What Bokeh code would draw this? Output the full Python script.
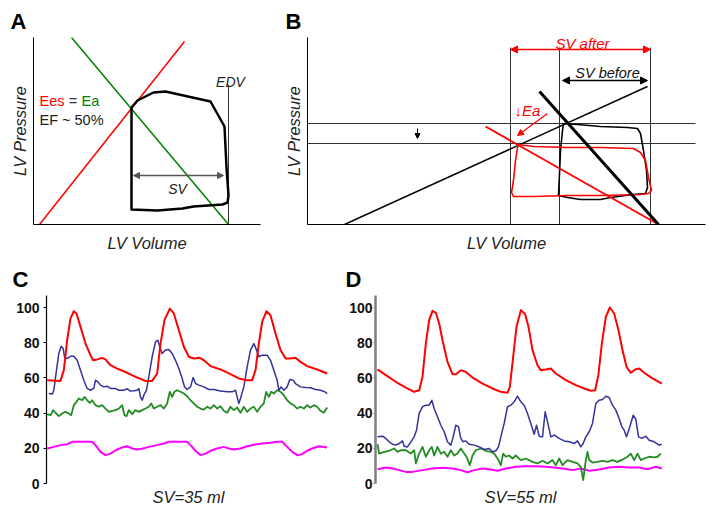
import math
from bokeh.plotting import figure
from bokeh.layouts import row, column
from bokeh.models import Label, Arrow, NormalHead, FixedTicker
from bokeh.embed import file_html
from bokeh.resources import INLINE

FONT = "Liberation Sans"

# ---------------- Panel A (schematic PV loop, arbitrary units) ----------------
a_espvr_v = [6, 151]
a_espvr_p = [0, 183]
a_ea_v = [38, 195]
a_ea_p = [187, 0]
a_edv_v = [195, 195]
a_edv_p = [0, 140]
a_loop_v = [98, 104, 120, 132, 177, 191, 193, 195, 194, 189, 160, 149, 124, 98, 98]
a_loop_p = [117, 124, 132, 133, 123, 98, 57, 29, 22, 20, 18, 16, 14, 15, 117]
a_sv_arrow = [100, 190, 49]  # v_start, v_end, p

# ---------------- Panel B (schematic, arbitrary units) ----------------
b_espvr_v = [37, 340]
b_espvr_p = [0, 138]
b_ea_before_v = [232, 351]
b_ea_before_p = [133, 0]
b_ea_after_v = [178, 351]
b_ea_after_p = [98, 0]
b_vlines_v = [203, 252, 343]
b_vline_top = 177
b_hlines_p = [101, 81]
b_hline_v = [-5, 388]
b_loop_before_v = [256, 270, 293, 320, 330, 333, 336, 339, 340, 338, 326, 303, 293, 273, 260, 251, 252, 253, 255, 256]
b_loop_before_p = [101, 100, 98, 97, 96, 91, 74, 54, 37, 31, 30, 27, 25, 25, 27, 29, 51, 74, 94, 101]
b_loop_after_v = [211, 226, 260, 293, 326, 333, 338, 341, 344, 341, 333, 293, 260, 226, 206, 204, 206, 208, 210, 211]
b_loop_after_p = [80, 78, 77, 77, 76, 72, 64, 47, 34, 31, 30, 29, 29, 28, 28, 32, 44, 64, 77, 80]
b_sv_after = [203, 343, 175]
b_sv_before = [255, 340, 144]
b_down_arrow = [110, 96, 86]
b_ea_arrow = [240, 111, 210, 89]

# ---------------- Panel C (pressure traces, mmHg; time in samples @300 Hz) ----------------
c_red = [(20,58.7),(60,58.3),(70,64.4),(80,81.4),(90,93.8),(100,97.9),(108,96.6),(120,89.0),(135,79.5),(150,72.9),(158,70.0),(170,70.5),(185,71.4),(195,70.5),(210,67.2),(230,65.3),(260,62.9),(290,60.2),(315,58.3),(335,58.3),(350,62.5),(360,79.5),(372,92.8),(388,99.4),(400,96.6),(415,87.1),(430,77.7),(445,72.0),(460,71.0),(478,71.4),(490,70.0),(510,66.7),(540,64.8),(570,62.1),(595,59.7),(618,58.7),(635,58.7),(645,64.4),(655,79.5),(665,91.9),(678,97.9),(690,95.6),(705,85.2),(720,75.8),(735,71.0),(750,71.0),(765,71.4),(780,69.1),(800,66.7),(830,64.8),(860,62.5)]
c_blue = [(25,51.1),(35,50.8),(40,53.0),(48,64.4),(55,73.9),(62,78.0),(68,76.7),(72,72.0),(80,71.0),(90,72.3),(100,72.3),(110,70.0),(120,64.4),(130,58.7),(140,54.0),(150,53.0),(160,54.0),(165,58.7),(172,57.8),(180,55.9),(190,54.9),(200,55.3),(210,54.0),(225,54.0),(235,53.0),(250,53.0),(260,53.8),(270,52.5),(280,52.7),(290,53.0),(295,54.0),(300,49.2),(305,47.3),(310,50.2),(318,53.0),(325,60.6),(335,72.0),(345,80.5),(352,81.4),(358,77.7),(365,73.9),(375,75.8),(385,76.1),(395,73.9),(405,70.0),(415,65.3),(425,59.7),(432,55.0),(440,53.4),(450,54.9),(458,60.2),(465,56.8),(475,55.9),(490,54.9),(505,53.4),(520,53.4),(540,52.5),(560,52.1),(575,52.1),(585,53.0),(590,49.2),(595,45.5),(600,48.3),(610,54.9),(620,66.3),(630,75.8),(640,79.5),(648,75.8),(655,72.0),(665,72.9),(680,72.9),(690,70.0),(700,64.4),(710,58.7),(715,53.0),(722,54.9),(730,53.0),(740,54.9),(748,59.1),(758,58.7),(765,56.8),(780,54.9),(795,54.5),(810,54.4),(825,53.4),(840,53.0),(855,51.9),(860,51.1)]
c_green = [(20,39.4),(30,38.8),(38,41.7),(45,40.2),(55,38.3),(65,39.8),(75,40.7),(85,39.8),(92,38.8),(100,44.5),(108,46.4),(115,48.3),(125,47.3),(132,49.2),(140,47.3),(148,45.8),(155,47.3),(165,44.5),(175,43.6),(185,44.5),(195,42.6),(205,40.7),(215,41.3),(225,41.7),(235,42.6),(245,44.5),(252,38.8),(258,38.3),(265,41.7),(275,39.4),(285,41.7),(295,40.7),(305,41.7),(315,42.6),(325,43.6),(332,45.5),(340,42.6),(350,43.6),(360,44.5),(370,42.6),(380,45.5),(388,52.1),(395,49.2),(402,52.1),(410,53.0),(420,52.1),(430,51.1),(440,49.6),(450,47.3),(460,45.5),(470,43.6),(480,42.6),(490,42.0),(500,43.6),(510,42.6),(520,44.5),(530,42.6),(540,43.9),(550,41.3),(560,40.2),(570,43.6),(580,41.7),(590,43.2),(600,40.2),(610,43.6),(620,40.7),(630,42.6),(640,43.6),(650,40.7),(660,43.6),(670,45.5),(677,52.1),(685,49.2),(692,52.1),(700,51.1),(710,53.0),(720,52.1),(730,50.2),(740,47.3),(750,45.5),(760,44.5),(770,42.6),(780,43.6),(790,42.6),(800,44.5),(810,43.2),(820,44.5),(830,43.6),(840,41.3),(850,40.2),(860,43.2)]
c_magenta = [(20,19.9),(40,20.8),(60,21.8),(80,22.3),(95,23.7),(110,23.7),(130,23.7),(155,23.7),(165,21.8),(180,18.0),(195,16.1),(210,17.0),(225,18.9),(245,20.5),(260,21.2),(275,19.9),(290,19.3),(305,19.7),(325,20.8),(350,21.8),(370,22.7),(385,23.7),(400,23.7),(420,23.7),(440,23.7),(450,21.8),(465,18.6),(480,16.1),(495,17.0),(510,18.6),(530,19.9),(550,20.8),(565,19.9),(580,19.3),(600,19.9),(620,21.2),(645,22.2),(665,22.7),(690,23.1),(710,23.7),(725,23.7),(740,20.8),(755,18.0),(770,16.1),(785,16.7),(800,18.6),(815,19.9),(835,21.2),(850,20.8),(860,20.5)]

# ---------------- Panel D ----------------
d_red = [(15,64.8),(40,61.6),(70,57.8),(100,54.5),(125,52.1),(140,53.0),(150,60.6),(160,79.5),(170,92.8),(180,98.1),(190,97.0),(200,90.9),(210,81.4),(225,69.1),(240,62.1),(250,62.1),(265,64.4),(280,63.4),(300,60.2),(330,56.8),(360,54.0),(385,52.1),(405,51.5),(412,54.9),(422,72.0),(432,89.0),(445,98.5),(458,96.2),(468,89.0),(480,75.8),(495,67.2),(505,64.4),(520,64.8),(535,65.3),(550,62.5),(580,58.7),(610,55.9),(635,54.0),(655,52.7),(668,53.0),(678,62.1),(688,79.5),(700,94.7),(712,100.0),(725,96.6),(738,87.1),(750,75.8),(762,66.3),(775,62.9),(788,64.8),(800,65.3),(815,62.9),(840,59.7),(868,56.8)]
d_blue = [(15,26.5),(30,26.9),(40,25.6),(50,23.7),(60,22.3),(70,21.8),(80,22.7),(90,24.2),(95,21.2),(105,20.8),(115,23.7),(125,26.5),(132,30.3),(140,39.8),(150,43.6),(160,44.5),(170,44.5),(178,47.3),(185,42.6),(195,37.9),(205,33.1),(215,29.4),(225,23.7),(235,21.8),(242,26.5),(250,33.1),(258,32.2),(265,25.6),(272,23.7),(280,24.2),(290,22.3),(305,21.8),(320,20.8),(335,19.3),(350,19.9),(360,18.0),(370,18.6),(378,20.8),(385,26.5),(395,34.1),(405,43.6),(415,44.5),(425,46.4),(435,49.6),(445,46.4),(455,44.5),(465,39.8),(475,34.1),(485,28.0),(492,33.1),(500,26.9),(510,26.5),(518,40.7),(525,35.2),(535,26.5),(545,27.5),(560,25.6),(575,24.2),(590,23.7),(605,22.7),(615,24.2),(625,20.8),(632,22.7),(640,26.5),(650,29.4),(660,34.1),(670,45.5),(680,47.3),(690,47.7),(700,49.6),(710,48.9),(720,44.5),(730,41.7),(740,36.9),(748,32.2),(755,30.3),(762,26.5),(772,32.2),(782,38.8),(790,36.6),(798,26.5),(808,25.6),(820,26.9),(830,24.6),(845,23.7),(860,21.8),(868,22.3)]
d_green = [(15,22.3),(20,17.0),(35,18.0),(50,18.6),(65,19.9),(75,18.0),(85,18.9),(100,18.9),(115,17.0),(125,18.9),(130,11.4),(140,17.0),(150,20.8),(160,15.2),(170,18.9),(178,20.8),(185,15.9),(195,20.8),(205,17.0),(215,18.0),(225,15.2),(235,18.9),(245,15.9),(255,17.0),(265,19.9),(275,17.0),(282,15.2),(292,10.4),(300,15.9),(310,18.9),(325,19.9),(340,18.6),(355,18.0),(365,17.0),(378,13.3),(385,10.4),(392,17.0),(400,15.2),(410,15.9),(420,14.2),(430,15.9),(445,13.3),(460,14.2),(480,12.3),(495,11.4),(510,12.9),(525,11.4),(540,13.3),(550,10.4),(560,14.2),(570,10.4),(585,13.3),(600,12.3),(615,11.4),(625,9.5),(632,1.9),(640,13.3),(645,18.0),(650,13.3),(660,11.9),(675,12.3),(690,12.9),(705,12.3),(720,13.3),(735,12.3),(750,13.6),(765,15.2),(775,17.0),(785,13.3),(795,17.0),(805,13.3),(815,14.2),(830,15.2),(845,14.8),(855,15.2),(865,17.0)]
d_magenta = [(15,8.1),(40,9.1),(60,8.5),(80,7.6),(100,6.6),(120,6.6),(150,7.6),(180,8.5),(210,8.9),(240,8.5),(265,7.6),(285,6.4),(305,7.6),(330,8.5),(355,8.0),(375,7.2),(400,8.5),(430,9.5),(460,9.8),(490,9.8),(520,9.5),(545,9.1),(570,8.5),(600,7.6),(625,8.5),(650,7.2),(680,8.0),(710,9.1),(740,9.5),(770,9.1),(800,9.1),(825,8.1),(850,9.5),(868,8.5)]

y_ticks = [0, 20, 40, 60, 80, 100]

RED = "#ff0000"
GREEN = "#008000"
BLUE = "#333399"
GREEN2 = "#228B22"
MAGENTA = "#ff00ff"
INK = "#222222"


def lab(p, x, y, s, size, color="black", style="normal", align="left",
        baseline="alphabetic", angle=0.0):
    p.add_layout(Label(x=x, y=y, text=s, text_font=FONT, text_font_size=f"{size}px",
                       text_font_style=style, text_color=color, text_align=align,
                       text_baseline=baseline, angle=angle))


def base_fig(fw, fh, bl, br, bt, bb, xr, yr, letter, letter_offset):
    p = figure(frame_width=fw, frame_height=fh, width=bl + fw + br, height=bt + fh + bb,
               min_border_left=bl, min_border_right=br, min_border_top=bt, min_border_bottom=bb,
               x_range=xr, y_range=yr, output_backend="svg", toolbar_location=None,
               title=letter)
    p.grid.visible = False
    p.outline_line_color = None
    p.background_fill_color = "white"
    p.border_fill_color = "white"
    t = p.title
    t.text_font = FONT
    t.text_font_size = "22px"
    t.text_font_style = "bold"
    t.text_color = "black"
    t.text_line_height = 1.0
    t.vertical_align = "middle"
    t.align = "left"
    t.offset = letter_offset
    t.standoff = 6
    return p


def bare_axis(ax, color="black", width=1, label=None, size=16.5, standoff=5):
    ax.ticker = FixedTicker(ticks=[])
    ax.major_tick_line_color = None
    ax.minor_tick_line_color = None
    ax.major_tick_out = 0
    ax.major_tick_in = 0
    ax.major_label_standoff = 0
    ax.major_label_text_font_size = "0px"
    ax.axis_line_color = color
    ax.axis_line_width = width
    if label:
        ax.axis_label = label
        ax.axis_label_text_font = FONT
        ax.axis_label_text_font_style = "italic"
        ax.axis_label_text_font_size = f"{size}px"
        ax.axis_label_text_color = INK
        ax.axis_label_standoff = standoff


def arrow(p, x0, y0, x1, y1, color, lw, size, both=False):
    head = lambda: NormalHead(size=size, fill_color=color, line_color=color)
    p.add_layout(Arrow(start=head() if both else None, end=head(),
                       x_start=x0, y_start=y0, x_end=x1, y_end=y1,
                       line_color=color, line_width=lw))


# ---------- A ----------
pA = base_fig(227, 187, 33, 8, 37, 38, (0, 227), (0, 187), "A", -23)
bare_axis(pA.xaxis[0], label="LV Volume", standoff=9)
bare_axis(pA.yaxis[0], label="LV Pressure", standoff=5)
pA.line(a_edv_v, a_edv_p, line_color="#333333", line_width=1)
pA.line(a_espvr_v, a_espvr_p, line_color=RED, line_width=1.5)
pA.line(a_ea_v, a_ea_p, line_color=GREEN, line_width=1.5)
pA.line(a_loop_v, a_loop_p, line_color="black", line_width=2.5, line_join="round")
arrow(pA, a_sv_arrow[0], a_sv_arrow[2], a_sv_arrow[1], a_sv_arrow[2], "#555555", 1.3, 6, both=True)
lab(pA, 6, 124, "Ees", 14.5, color=RED)
lab(pA, 39.5, 124, "=", 14.5, color="#333333", align="center")
lab(pA, 48, 124, "Ea", 14.5, color=GREEN)
lab(pA, 6, 105, "EF ~ 50%", 14.5, color=INK)
lab(pA, 197, 143, "EDV", 14, color=INK, style="italic", align="center")
lab(pA, 144, 36, "SV", 14, color=INK, style="italic", align="center")

# ---------- B ----------
pB = base_fig(398, 187, 39, 4, 37, 38, (0, 398), (0, 187), "B", -22)
bare_axis(pB.xaxis[0], label="LV Volume", standoff=9)
bare_axis(pB.yaxis[0], label="LV Pressure", standoff=5)
for xv in b_vlines_v:
    pB.line([xv, xv], [0, b_vline_top], line_color="#333333", line_width=1)
for yv in b_hlines_p:
    pB.line(b_hline_v, [yv, yv], line_color="#333333", line_width=1)
pB.line(b_espvr_v, b_espvr_p, line_color="black", line_width=1.5)
pB.line(b_loop_before_v, b_loop_before_p, line_color="black", line_width=1.6, line_join="round")
pB.line(b_loop_after_v, b_loop_after_p, line_color=RED, line_width=1.6, line_join="round")
pB.line(b_ea_after_v, b_ea_after_p, line_color=RED, line_width=1.8)
pB.line(b_ea_before_v, b_ea_before_p, line_color="black", line_width=3)
arrow(pB, b_sv_after[0], b_sv_after[2], b_sv_after[1], b_sv_after[2], RED, 1.5, 7, both=True)
arrow(pB, b_sv_before[0], b_sv_before[2], b_sv_before[1], b_sv_before[2], "black", 1.5, 7, both=True)
arrow(pB, b_down_arrow[0], b_down_arrow[1], b_down_arrow[0], b_down_arrow[2], "black", 1, 5)
arrow(pB, b_ea_arrow[0], b_ea_arrow[1], b_ea_arrow[2], b_ea_arrow[3], RED, 1.2, 6)
lab(pB, 275, 181, "SV after", 15, color=RED, style="italic", align="center")
lab(pB, 300, 152, "SV before", 14.5, color="#111111", style="italic", align="center")
lab(pB, 220, 114, "\u2193Ea", 15, color=RED, style="italic", align="center")


# ---------- C & D ----------
def trace_panel(bl, br, fw, xr, series, axis_color, axis_w, tick_out, standoff,
                letter, letter_offset, sv_text):
    fh = 188
    p = base_fig(fw, fh, bl, br, 33, 29, xr, (0, fh / 1.76), letter, letter_offset)
    bare_axis(p.xaxis[0], color=None, label=sv_text, size=16.5, standoff=4)
    ax = p.yaxis[0]
    ax.ticker = FixedTicker(ticks=y_ticks)
    ax.minor_tick_line_color = None
    ax.major_tick_in = 0
    ax.major_tick_out = tick_out
    ax.major_tick_line_color = axis_color
    ax.axis_line_color = axis_color
    ax.axis_line_width = axis_w
    ax.major_label_standoff = standoff
    ax.major_label_text_font = FONT
    ax.major_label_text_font_style = "bold"
    ax.major_label_text_font_size = "14px"
    ax.major_label_text_color = "#111111"
    for data, color, lw in series:
        t, v = zip(*data)
        p.line(list(t), list(v), line_color=color, line_width=lw, line_join="round")
    return p


pC = trace_panel(46, 10, 284, (18, 870),
                 [(c_magenta, MAGENTA, 2), (c_green, GREEN2, 1.8), (c_blue, BLUE, 1.5), (c_red, RED, 2)],
                 "black", 1.2, 3, 4, "C", -34, "SV=35 ml")

pD = trace_panel(35, 44, 290, (9, 879),
                 [(d_magenta, MAGENTA, 2), (d_green, GREEN2, 1.8), (d_blue, BLUE, 1.5), (d_red, RED, 2)],
                 "#808080", 2.5, 2, 1, "D", -30, "SV=55 ml")

layout = column(row(pA, pB, spacing=0), row(pC, pD, spacing=0), spacing=0)

with open("out.html", "w") as f:
    f.write(file_html(layout, INLINE))
